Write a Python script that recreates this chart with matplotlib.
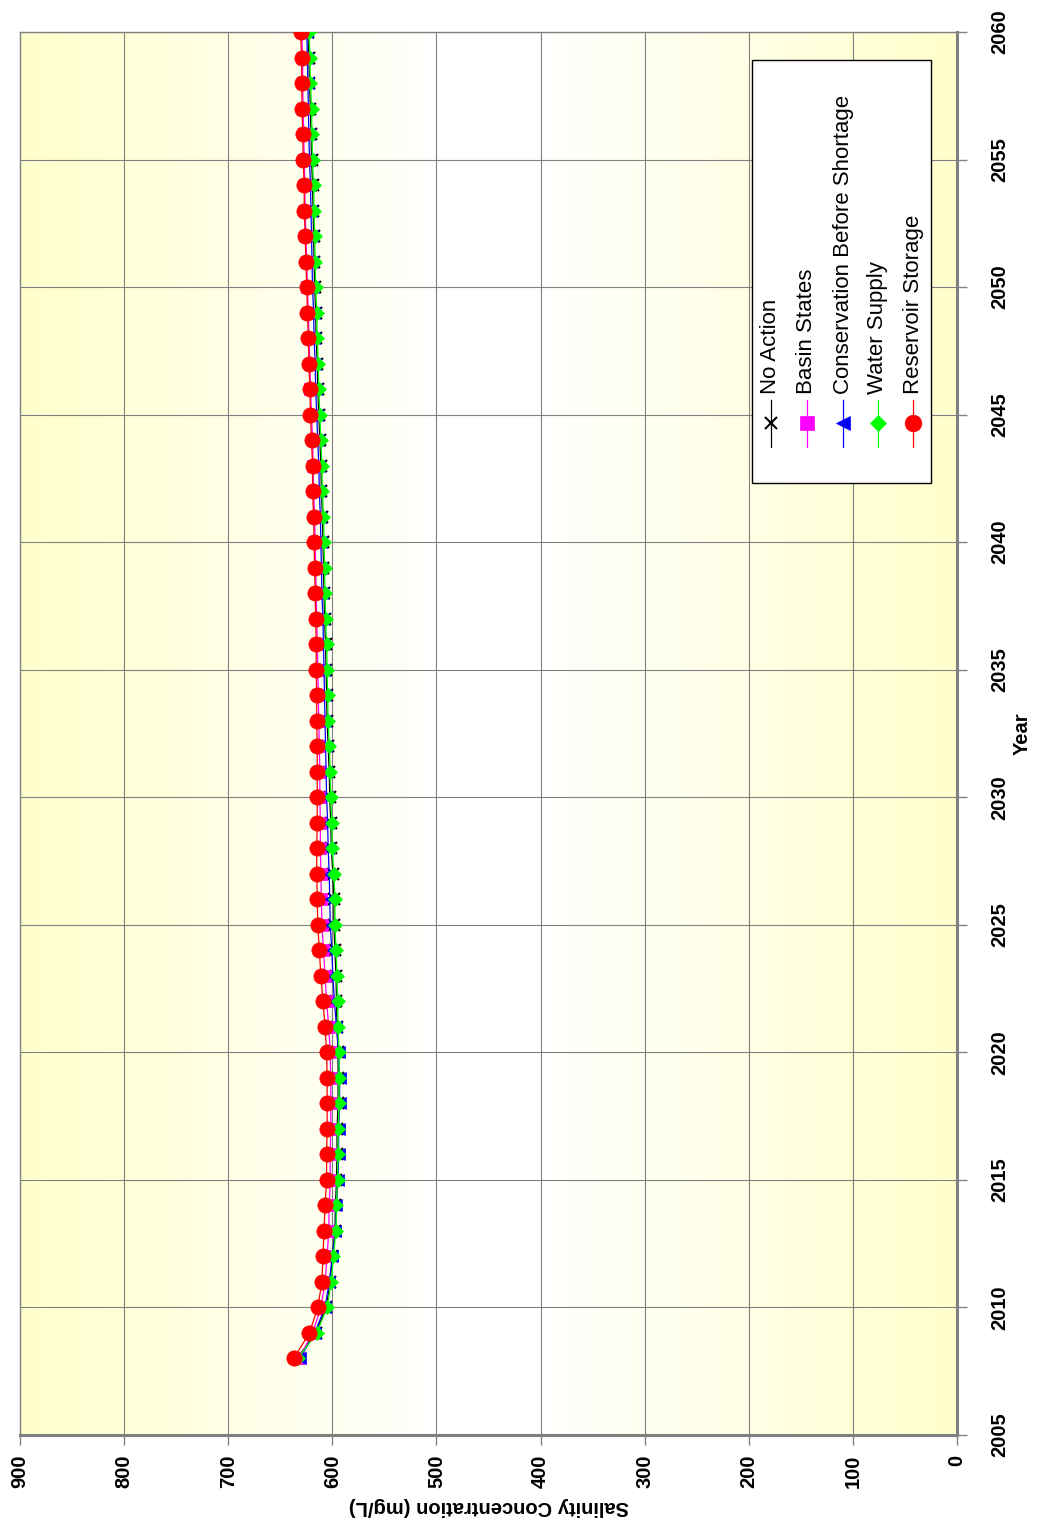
import numpy as np
import matplotlib
matplotlib.use("Agg")
import matplotlib.pyplot as plt
from matplotlib.lines import Line2D
from matplotlib.patches import Rectangle

plt.rcParams['font.family'] = ['Liberation Sans', 'DejaVu Sans']

years = list(range(2008, 2061))

no_action = [634, 616, 606, 602, 600, 597.5, 597, 596, 595.5, 595.5,
             594.5, 594.5, 594.5, 595.5, 596, 596.5, 597.5, 598.5, 598.5, 599.5,
             601, 601.5, 602.5, 603, 604, 605, 605.5, 606, 606.5, 607.5,
             608, 608.5, 609, 609.5, 610.5, 611, 612, 613, 614, 614.5,
             615.5, 616, 617, 617.5, 618, 618.5, 619, 620, 620.5, 621,
             622, 622.5, 623.5]

basin_states = [632, 619, 611, 607, 605, 603.5, 603, 602, 602, 601.5,
                601.5, 601.5, 602, 603.5, 605.5, 607, 608.5, 610, 610.5, 611,
                611.5, 611.5, 612, 612, 612.5, 613, 613.5, 614, 614.5, 615,
                615.5, 616, 616.5, 617, 618, 618.5, 619, 620, 621, 621.5,
                622.5, 623, 624, 624.5, 625.5, 626, 626.5, 627, 627.5, 628,
                628.5, 628.5, 629.5]

conservation = [631, 617, 607, 603, 600, 597, 596, 594.5, 594, 594,
                593, 593, 594, 596, 598, 599.5, 600.5, 602, 602.5, 603,
                604, 604.5, 605.5, 606, 606.5, 607, 607.5, 608, 608.5, 609,
                610, 610.5, 611, 611.5, 612.5, 613, 614, 615, 616, 616.5,
                617.5, 618, 619, 619.5, 620, 620.5, 621, 622, 622.5, 623,
                623.5, 624, 624.5]

water_supply = [633, 615, 605, 601, 599, 596.5, 596, 595, 594.5, 594.5,
                593.5, 593.5, 593.5, 594.5, 595, 595.5, 596.5, 597.5, 597.5, 598.5,
                600, 600.5, 601.5, 602, 603, 604, 604.5, 605, 605.5, 606.5,
                607, 607.5, 608, 608.5, 609.5, 610, 611, 612, 613, 613.5,
                614.5, 615, 616, 616.5, 617, 617.5, 618, 619, 619.5, 620,
                621, 621.5, 622.5]

reservoir_storage = [637, 622, 614, 610, 609, 608, 607, 605.5, 605.5, 605,
                     605, 605, 605.5, 607, 609, 611, 612.5, 614, 614.5, 615,
                     615, 614.5, 614.5, 614.5, 614.5, 615, 615, 615.5, 615.5, 616,
                     616.5, 617, 617.5, 618, 619, 619, 620, 621, 621.5, 622.5,
                     623, 624, 624.5, 625.5, 626, 627, 627, 628, 628.5, 629,
                     629.5, 629.5, 630.5]

series_names = ["No Action", "Basin States", "Conservation Before Shortage",
                "Water Supply", "Reservoir Storage"]
series_values = [no_action, basin_states, conservation, water_supply, reservoir_storage]
colors = ["#000000", "#FF00FF", "#0000FF", "#00FF00", "#FF0000"]
markers = ["x", "s", "<", "D", "o"]
msizes = [8, 9, 9, 7.5, 11]
legend_msizes = [9, 10, 10, 8.5, 12]

W, H = 1037, 1524
fig = plt.figure(figsize=(W / 100, H / 100), dpi=100)
ax = fig.add_axes([20 / W, 1 - 1435 / H, (957 - 20) / W, (1435 - 32) / H])

# yellow-white-yellow background of the plot area
t = np.abs(np.linspace(-1, 1, 400))
t = np.clip((t - 0.1) / 0.9, 0, 1)
yellow = np.array([1.0, 1.0, 0.8])
grad = np.ones((1, 400, 3)) * (1 - t)[None, :, None] + yellow[None, None, :] * t[None, :, None]
ax.imshow(grad, extent=[0, 1, 0, 1], transform=ax.transAxes, aspect='auto', zorder=0)

for vals, c, m, ms in zip(series_values, colors, markers, msizes):
    ax.plot(vals, years, color=c, lw=0.9, marker=m, ms=ms, mec=c, mfc=c,
            mew=1.5 if m == "x" else 0.5, zorder=3)

ax.set_xlim(900, 0)
ax.set_ylim(2005, 2060)
ax.set_xticks(np.arange(0, 901, 100))
ax.set_yticks(np.arange(2005, 2061, 5))
ax.grid(True, color='#808080', lw=0.8, zorder=1)

ax.yaxis.tick_right()
ax.tick_params(axis='x', direction='out', length=7, width=1, color='#808080', pad=7)
ax.tick_params(axis='y', direction='out', length=7, width=1, color='#808080', pad=17)
for lab in ax.get_xticklabels():
    lab.set_rotation(90)
    lab.set_fontweight('bold')
    lab.set_fontsize(14.5)
    lab.set_va('top')
    lab.set_ha('center')
for lab in ax.get_yticklabels():
    lab.set_rotation(90)
    lab.set_fontweight('bold')
    lab.set_fontsize(14.5)
    lab.set_va('center')
    lab.set_ha('left')

for s in ['left', 'top']:
    ax.spines[s].set_color('#808080')
    ax.spines[s].set_linewidth(1)
for s in ['right', 'bottom']:
    ax.spines[s].set_color('#808080')
    ax.spines[s].set_linewidth(2.2)

ax.set_xlabel("Salinity Concentration (mg/L)", fontsize=14.5, fontweight='bold',
              rotation=180, va='center', ha='center')
ax.xaxis.set_label_coords(0.5, -0.0513)
ax.yaxis.set_label_position('right')
ax.set_ylabel("Year", fontsize=14.5, fontweight='bold', rotation=90, va='center', ha='center')
ax.yaxis.set_label_coords(1.07, 0.5)


def px(x, y):
    return x / W, 1 - y / H


# rotated legend, drawn by hand
x0, y0 = px(752, 483)
x1, y1 = px(931, 60)
fig.add_artist(Rectangle((x0, y0), x1 - x0, y1 - y0, transform=fig.transFigure,
                         facecolor='white', edgecolor='black', lw=1, zorder=5))
entry_x = [771, 807, 843, 878, 913]
for ex, name, c, m, ms in zip(entry_x, series_names, colors, markers, legend_msizes):
    lx, ly0 = px(ex, 447)
    _, ly1 = px(ex, 400)
    fig.add_artist(Line2D([lx, lx], [ly0, ly1], transform=fig.transFigure,
                          color=c, lw=0.9, zorder=6))
    mx, my = px(ex, 423)
    fig.add_artist(Line2D([mx], [my], transform=fig.transFigure, color=c,
                          marker=m, ms=ms, mec=c, mfc=c,
                          mew=1.5 if m == "x" else 0.5, zorder=7))
    tx, ty = px(ex, 394)
    fig.text(tx, ty, name, rotation=90, ha='center', va='bottom',
             fontsize=16, zorder=8)

fig.savefig("out.png", dpi=100)
